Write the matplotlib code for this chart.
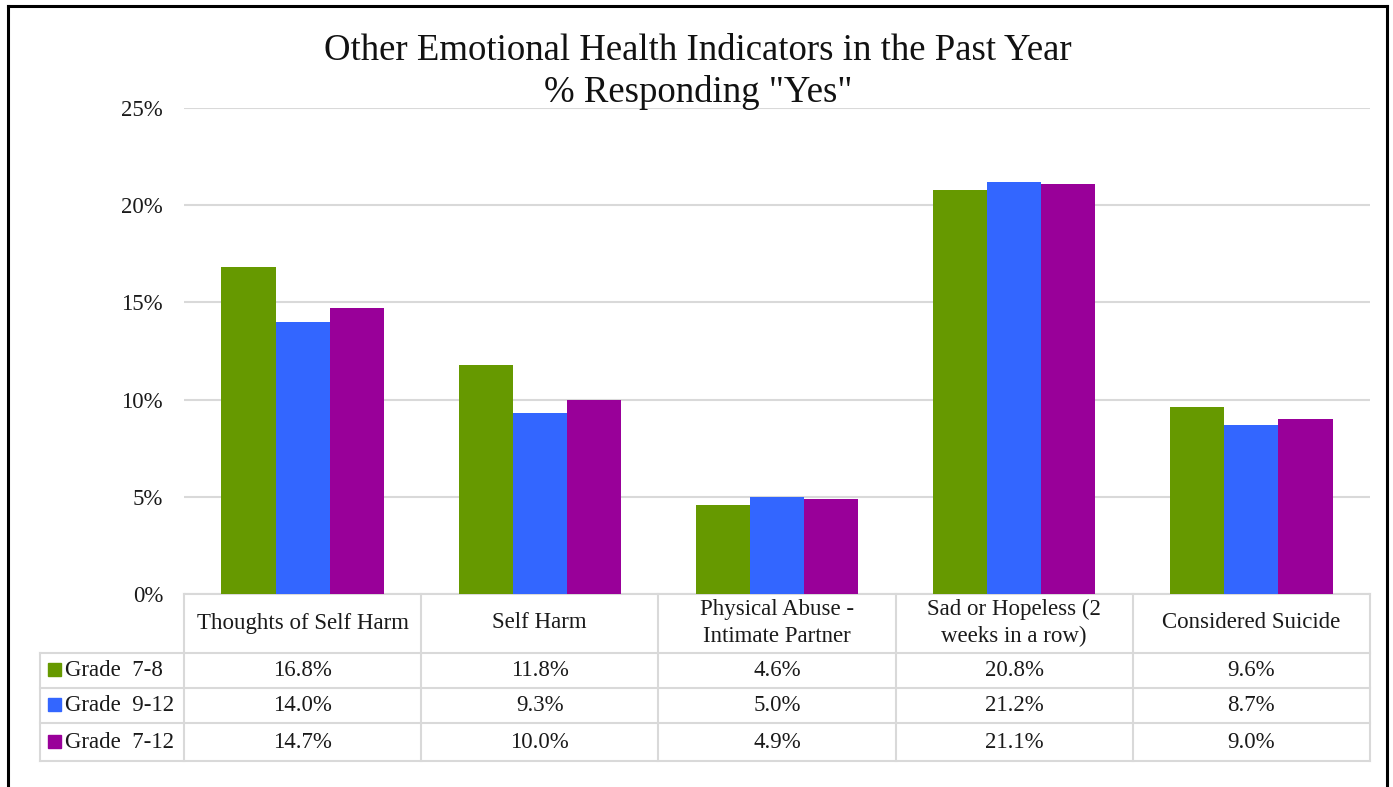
import numpy as np
import matplotlib.pyplot as plt
from matplotlib.lines import Line2D
from matplotlib.patches import Rectangle

# =============================================================================
# DATA
# =============================================================================
categories = ["Thoughts of Self Harm", "Self Harm", "Physical Abuse -\nIntimate Partner",
              "Sad or Hopeless (2\nweeks in a row)", "Considered Suicide"]
series_names = ["Grade  7-8", "Grade  9-12", "Grade  7-12"]
grade_7_8 = [16.8, 11.8, 4.6, 20.8, 9.6]
grade_9_12 = [14.0, 9.3, 5.0, 21.2, 8.7]
grade_7_12 = [14.7, 10.0, 4.9, 21.1, 9.0]
colors = ["#669900", "#3366FF", "#990099"]
yticks = [0, 5, 10, 15, 20, 25]

plt.rcParams['font.family'] = ['Liberation Serif', 'DejaVu Serif']
txt_col = "#1a1a1a"

W, H = 1393, 787
fig = plt.figure(figsize=(W / 100, H / 100), dpi=100)

# plot area in pixels
left, right, top, bottom = 184, 1370, 108, 594
ax = fig.add_axes([left / W, 1 - bottom / H, (right - left) / W, (bottom - top) / H])

x = np.arange(len(categories))
bw = 0.228
for i, vals in enumerate([grade_7_8, grade_9_12, grade_7_12]):
    ax.bar(x + (i - 1) * bw, vals, width=bw, color=colors[i], zorder=3)

ax.set_xlim(-0.5, len(categories) - 0.5)
ax.set_ylim(0, 25)
ax.set_yticks(yticks)
ax.set_yticklabels([f"{t}%" for t in yticks], fontsize=16.5, color=txt_col)
ax.tick_params(axis='y', length=0, pad=15)
ax.set_xticks([])
ax.grid(axis='y', color="#d9d9d9", linewidth=1.5, zorder=0)
for s in ax.spines.values():
    s.set_visible(False)

# title, two lines
fig.text(698 / W, 1 - 51 / H, "Other Emotional Health Indicators in the Past Year",
         ha='center', va='center', fontsize=26.5, color="#111111")
fig.text(698 / W, 1 - 93 / H, "% Responding \"Yes\"",
         ha='center', va='center', fontsize=26.5, color="#111111")

# =============================================================================
# DATA TABLE
# =============================================================================
tr = ax.get_xaxis_transform()
ph = bottom - top  # axes height in px
def fy(py):
    return (bottom - py) / ph

row_edges = [594, 653, 688, 723, 761]
gcol = "#d9d9d9"
lw = 1.5
leg_left = -0.5 - (left - 40) / ((right - left) / len(categories))

# horizontal lines
ax.add_line(Line2D([-0.5, 4.5], [fy(594)] * 2, transform=tr, color=gcol, lw=lw, clip_on=False))
for py in row_edges[1:]:
    ax.add_line(Line2D([leg_left, 4.5], [fy(py)] * 2, transform=tr, color=gcol, lw=lw, clip_on=False))
# vertical lines
for xb in np.arange(-0.5, 5.0, 1.0):
    ax.add_line(Line2D([xb, xb], [fy(594), fy(761)], transform=tr, color=gcol, lw=lw, clip_on=False))
ax.add_line(Line2D([leg_left, leg_left], [fy(653), fy(761)], transform=tr, color=gcol, lw=lw, clip_on=False))

# header text
for i, c in enumerate(categories):
    ax.text(i, fy(623), c, transform=tr, ha='center', va='center', fontsize=16.5,
            linespacing=1.4, color=txt_col)

# rows
for r, (name, vals) in enumerate(zip(series_names, [grade_7_8, grade_9_12, grade_7_12])):
    yp = (row_edges[r + 1] + row_edges[r + 2]) / 2
    yc = fy(yp)
    for i, v in enumerate(vals):
        ax.text(i, yc, f"{v:.1f}%", transform=tr, ha='center', va='center', fontsize=16.5, color=txt_col)
    fig.patches.append(Rectangle((48 / W, 1 - (yp - 1) / H - 6.5 / H),
                                 13 / W, 13 / H, transform=fig.transFigure, color=colors[r]))
    fig.text(65 / W, 1 - yp / H, name, ha='left', va='center',
             fontsize=16.5, color=txt_col)

# outer frame
fl = dict(color="black", lw=2.2, transform=fig.transFigure)
fig.add_artist(Line2D([8 / W, 8 / W], [0, 1 - 6 / H], **fl))
fig.add_artist(Line2D([1387 / W, 1387 / W], [0, 1 - 6 / H], **fl))
fig.add_artist(Line2D([8 / W, 1387 / W], [1 - 6 / H, 1 - 6 / H], **fl))

fig.savefig("out.png", dpi=100)
